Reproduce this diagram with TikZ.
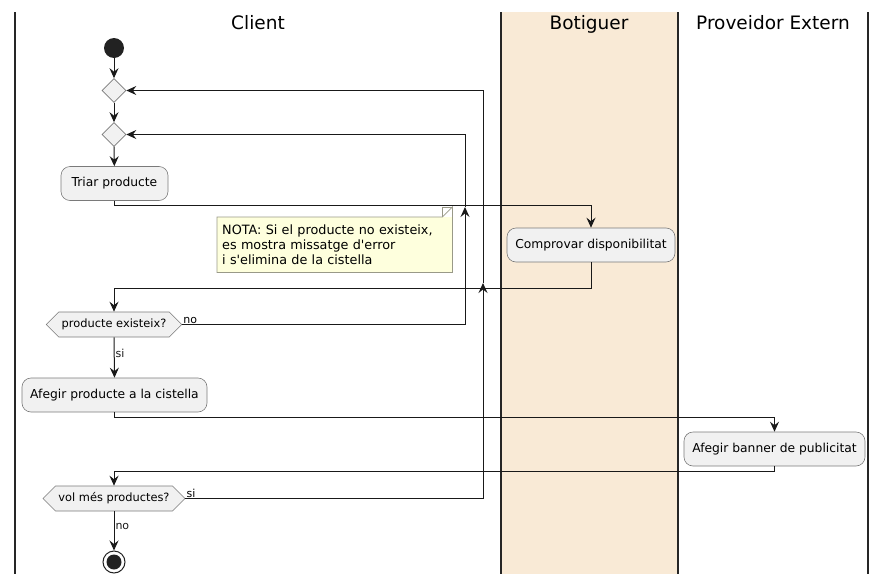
\documentclass[tikz,border=0pt]{standalone}
\usepackage{fontspec}
\setmainfont{DejaVu Sans}
\newfontfamily\umlfont{DejaVu Sans}
\usepackage{xcolor}
\usetikzlibrary{arrows.meta,shapes.geometric,shapes.symbols}

\definecolor{lanefill}{HTML}{F9EAD6}
\definecolor{boxfill}{HTML}{F1F1F1}
\definecolor{boxline}{HTML}{7A7A7A}
\definecolor{notefill}{HTML}{FEFFDD}
\definecolor{noteline}{HTML}{999988}
\definecolor{dotfill}{HTML}{222222}

\tikzset{
  lane/.style={line width=1.4pt, black!85},
  lanehead/.style={anchor=base, font=\umlfont\fontsize{18.5}{22}\selectfont},
  activity/.style={draw=boxline, fill=boxfill, rounded corners=9pt, line width=0.6pt,
    minimum height=34pt, inner xsep=8pt, font=\umlfont\fontsize{12.3}{14}\selectfont},
  merge/.style={diamond, draw=boxline, fill=boxfill, line width=0.6pt,
    minimum width=24pt, minimum height=24pt, inner sep=0pt},
  choice/.style={signal, signal to=west and east, signal pointer angle=90,
    draw=boxline, fill=boxfill, line width=0.6pt, minimum height=25pt,
    inner xsep=3pt, font=\umlfont\fontsize{11.4}{13}\selectfont},
  flow/.style={line width=1pt, black!90, -{Stealth[length=10pt,width=9pt,inset=3.5pt]}},
  guard/.style={font=\umlfont\fontsize{11}{13}\selectfont, inner sep=1pt}
}

\begin{document}
\begin{tikzpicture}[x=1pt,y=-1pt]
    \useasboundingbox (0,0) rectangle (887,584);

    % Swimlanes
    \fill[lanefill] (501,12) rectangle (678,574);
    \foreach \xl in {15,501,678,868}
        \draw[lane] (\xl,12) -- (\xl,574);
    \node[lanehead] (hclient) at (258,29) {Client};
    \node[lanehead] (hbotig) at (589,29) {Botiguer};
    \node[lanehead] (hprov) at (773,29) {Proveidor Extern};

    % Nodes
    \node[circle, fill=dotfill, minimum size=20pt, inner sep=0pt] (start) at (114,48) {};
    \node[merge] (mA) at (114,90.5) {};
    \node[merge] (mB) at (114,134.5) {};
    \node[activity, minimum width=107pt] (triar) at (114.5,183.5) {Triar producte};
    \node[activity, minimum width=168pt] (comp) at (591,245) {Comprovar disponibilitat};
    \node[choice, minimum width=130pt] (exist) at (114,324.5) {producte existeix?};
    \node[activity, minimum width=185pt] (afeg) at (114.5,395) {Afegir producte a la cistella};
    \node[activity, minimum width=181pt] (banner) at (774.5,449) {Afegir banner de publicitat};
    \node[choice, minimum width=136pt] (more) at (114,498.5) {vol més productes?};
    \node[circle, draw=dotfill, line width=1pt, minimum size=22pt, inner sep=0pt] (stop) at (114,562) {};
    \fill[dotfill] (stop) circle (7.5pt);

    % Note
    \node[fill=notefill, minimum width=235pt, minimum height=55pt, align=left, anchor=north west,
        inner xsep=5pt, text width=225pt, font=\umlfont\fontsize{12.8}{15}\selectfont] (nota) at (217,217)
        {NOTA: Si el producte no existeix,\\es mostra missatge d'error\\i s'elimina de la cistella};
    \draw[noteline, line width=0.7pt] (nota.north west) -- ([xshift=-10pt]nota.north east)
        -- ([yshift=10pt]nota.north east) -- (nota.south east) -- (nota.south west) -- cycle;
    \draw[noteline, line width=0.7pt] ([xshift=-10pt]nota.north east) -- ([xshift=-10pt,yshift=10pt]nota.north east)
        -- ([yshift=10pt]nota.north east);

    % Loop corners
    \coordinate (noup) at (465,207);
    \coordinate (siup) at (483,283);

    % Connectors
    \draw[flow] (start) -- (mA);
    \draw[flow] (mA) -- (mB);
    \draw[flow] (mB) -- (triar);
    \draw[flow] (triar.south) -- ++(0,5) -| (comp.north);
    \draw[flow] (comp.south) -- ++(0,26) -| (exist.north);
    \draw[flow] (exist.east) -| (noup);
    \draw[flow] (noup) |- (mB.east);
    \node[guard, anchor=south west] (lno) at (exist.east) {no};
    \draw[flow] (exist.south) -- node[guard, right, pos=0.4] (lsi) {si} (afeg.north);
    \draw[flow] (afeg.south) -- ++(0,5) -| (banner.north);
    \draw[flow] (banner.south) -- ++(0,5) -| (more.north);
    \draw[flow] (more.east) -| (siup);
    \draw[flow] (siup) |- (mA.east);
    \node[guard, anchor=south west] (lsi2) at (more.east) {si};
    \draw[flow] (more.south) -- node[guard, right, pos=0.4] (lno2) {no} (stop.north);
\end{tikzpicture}
\end{document}
